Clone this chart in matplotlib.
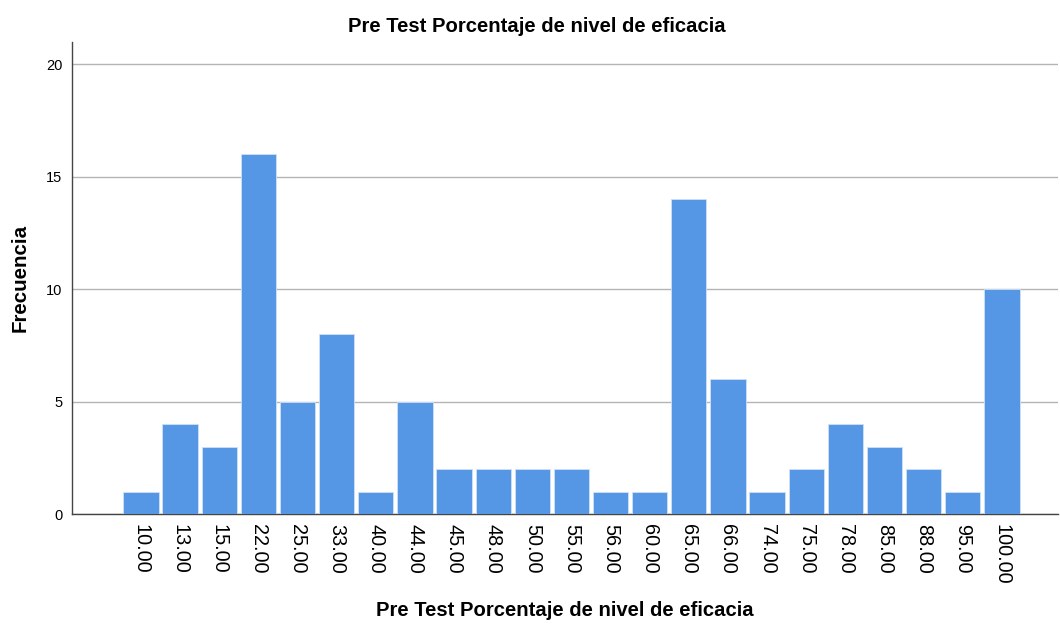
import numpy as np
import matplotlib
matplotlib.use("Agg")
import matplotlib.pyplot as plt

plt.rcParams['font.family'] = ['Liberation Sans', 'DejaVu Sans']

categories = ['10.00', '13.00', '15.00', '22.00', '25.00', '33.00', '40.00', '44.00',
              '45.00', '48.00', '50.00', '55.00', '56.00', '60.00', '65.00', '66.00',
              '74.00', '75.00', '78.00', '85.00', '88.00', '95.00', '100.00']
frecuencia = [1, 4, 3, 16, 5, 8, 1, 5, 2, 2, 2, 2, 1, 1, 14, 6, 1, 2, 4, 3, 2, 1, 10]
yticks = [0, 5, 10, 15, 20]

titulo = 'Pre Test Porcentaje de nivel de eficacia'

fig = plt.figure(figsize=(10.6, 6.24), dpi=100)
ax = fig.add_axes([0.068, 0.176, 0.93, 0.757])

x = np.arange(len(categories))
ax.bar(x, frecuencia, width=0.9, color='#5596e5', edgecolor='#cfe0f7',
       linewidth=0.6, zorder=3)

ax.set_xlim(-1.76, len(categories) - 1 + 1.43)
ax.set_ylim(0, 21)
ax.set_yticks(yticks)
ax.set_xticks(x)
ax.set_xticklabels(categories, rotation=-90, fontsize=14.3)
ax.tick_params(axis='x', length=0, pad=7)
ax.tick_params(axis='y', length=0, pad=7, labelsize=10.5)
ax.yaxis.grid(True, color='#b4b4b4', linewidth=1, zorder=0)

for s in ['top', 'right']:
    ax.spines[s].set_visible(False)
for s in ['left', 'bottom']:
    ax.spines[s].set_color('#444444')
    ax.spines[s].set_linewidth(1)

ax.set_ylabel('Frecuencia', fontsize=14.8, fontweight='bold', labelpad=12)
ax.set_xlabel(titulo, fontsize=14.6, fontweight='bold', labelpad=12)
fig.text(0.506, 0.958, titulo, ha='center', va='center', fontsize=14.6, fontweight='bold')

plt.savefig('out.png', dpi=100)
